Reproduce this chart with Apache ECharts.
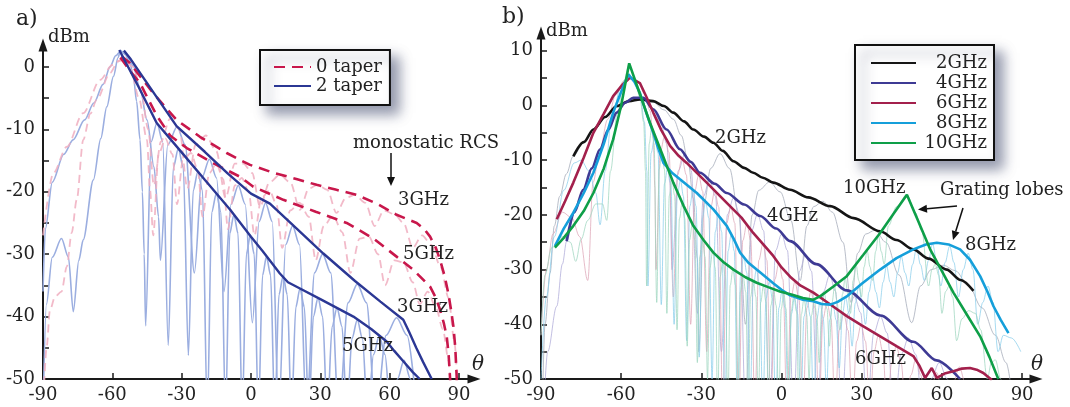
<!DOCTYPE html>
<html><head><meta charset="utf-8">
<script src="https://cdn.jsdelivr.net/npm/echarts@6/dist/echarts.min.js"></script>
<style>html,body{margin:0;padding:0;background:#fff}#c{width:1070px;height:407px}</style>
</head><body><div id="c"></div>
<script>
// ---------- tick labels ----------
const xTickLabels = [-90, -60, -30, 0, 30, 60, 90];
const yLabelsA = [-50, -40, -30, -20, -10, 0];
const yTicksA = [-50, -45, -40, -35, -30, -25, -20, -15, -10, -5, 0];
const yLabelsB = [-50, -40, -30, -20, -10, 0, 10];
const yTicksB = [-50, -45, -40, -35, -30, -25, -20, -15, -10, -5, 0, 5, 10];

// ---------- panel a: envelopes ----------
const a0taper3G = [[-56,1.7],[-55.4,1.65],[-52.4,0.6],[-48,-1.5],[-42.3,-4.2],[-37,-6.5],[-32.2,-8.5],[-22.1,-11.2],[-10.5,-13.8],[-4.8,-14.9],[-0.4,-15.7],[10,-17],[20,-18],[28.4,-18.9],[37,-19.7],[45.7,-20.5],[55,-22],[63,-23.7],[71.7,-25],[75,-26],[77.5,-27.2],[80,-29],[81.8,-30.9],[83.8,-33.5],[85.4,-36.3],[86.6,-39],[87.6,-41.6],[88.4,-45],[89,-49.6],[89.1,-51]];
const a0taper5G = [[-56.5,1.5],[-52,-0.8],[-48,-2.6],[-45,-4.8],[-40.8,-7.8],[-35,-11],[-27.8,-13],[-16,-15.5],[-4.8,-17.6],[1,-19.2],[14,-21.3],[28,-23.2],[41.4,-25],[53,-27.5],[63,-30.4],[70.2,-32.5],[77.5,-35.2],[80,-37],[81.8,-38.9],[83.4,-41],[84.7,-43.2],[85.5,-46],[86.1,-49.6],[86.3,-51]];
const a2taper3G = [[-55,2.6],[-52,1.2],[-42,-4.2],[-32.2,-9.5],[-20,-13.6],[-10,-17.1],[0,-20.3],[8.2,-21.9],[20,-26],[31.3,-29.9],[45,-34.3],[56,-37.6],[65.9,-40.5],[68.5,-42.5],[71.5,-45],[74.5,-47.3],[78.2,-50]];
const a2taper5G = [[-57,2.7],[-56.3,2.5],[-48.5,-3.3],[-40.8,-9],[-30,-13.7],[-20,-18.1],[-9,-22.9],[0,-27.2],[5,-29.5],[12.5,-33.1],[16,-34.5],[21.2,-35.5],[30,-37.2],[44.3,-40],[52,-42],[58.7,-44],[62,-45.5],[66,-47.2],[70,-48.9],[73,-50]];

// ---------- panel a: faint patterns ----------
const aFaintBlue3 = [[-90,-36],[-89,-26],[-86,-18.5],[-81,-14],[-77,-11.7],[-72,-8.5],[-68,-5.8],[-64,-2.8],[-61,0],[-58.5,1.8],[-56.5,2.5],[-54,2],[-51,0.2],[-48,-3.5],[-45,-8.5],[-42,-16],[-40,-24],[-39.2,-31],
[-36,-12.5],[-32,-9.6],[-28.5,-12.5],[-24.5,-33],
[-21.3,-17.8],[-18,-14.8],[-14.9,-17.8],[-11.7,-36],
[-8.6,-22],[-5.5,-19],[-2.5,-22],[0.6,-41],
[3.5,-24.8],[6.3,-21.8],[9.2,-24.8],[12,-56],
[15,-28.5],[18,-25.5],[21,-28.5],[24,-56],
[27.5,-33],[31,-30],[34.5,-33],[38,-56],
[42,-37.8],[46,-34.8],[50,-37.8],[54,-56],
[58.5,-43],[63,-40.2],[67.5,-43],[72,-56]];
const aFaintBlue5 = [[-90,-55],[-88.5,-38],[-86,-30.5],[-82,-27.5],[-79,-30.5],[-76.9,-39.2],[-74.5,-31],[-72.6,-27.7],[-68.2,-18.1],[-65,-11.5],[-62.4,-6.4],[-59.5,-1.5],[-57.5,1.5],[-56.5,2.6],[-54.5,2],[-52.5,0.8],[-50.9,-1.5],[-49.5,-5.5],[-48,-11.7],[-47,-20],[-46.2,-30],[-45.6,-41.5],
[-43.2,-12],[-40.7,-9],[-38.2,-12],[-35.8,-44.6],
[-33.6,-16.1],[-31.45,-13.1],[-29.3,-16.1],[-27.1,-46.2],
[-25,-19.8],[-23,-16.8],[-21,-19.8],[-18.9,-56],
[-17,-23.3],[-15,-20.3],[-13,-23.3],[-11,-56],
[-9.2,-26.7],[-7.4,-23.7],[-5.6,-26.7],[-3.8,-56],
[-2,-30],[-0.3,-27],[1.4,-30],[3.2,-56],
[5,-33.4],[6.7,-30.4],[8.5,-33.4],[10.3,-56],
[12.1,-36.5],[13.9,-33.5],[15.7,-36.5],[17.5,-56],
[19.4,-38.5],[21.2,-35.5],[23.1,-38.5],[25,-56],
[27,-40],[29,-37],[31,-40],[33,-56],
[35.1,-41.6],[37.2,-38.6],[39.4,-41.6],[41.5,-56],
[43.7,-43.5],[46,-40.5],[48.2,-43.5],[50.5,-56],
[53,-46.1],[55.5,-43.1],[58,-46.1],[60.5,-56],
[63.4,-50],[66.2,-47],[69,-50],[72,-56]];
const aFaintPink3 = [[-90,-27],[-85.5,-17],[-79.7,-12.8],[-72.6,-7.4],[-65.3,-2.1],[-60,0.3],[-55.5,1.3],[-51,0],[-47.5,-4],[-44.5,-10],[-42,-19],[-39,-12],[-35,-8.3],[-31,-10],[-27.5,-19.5],[-24,-12.5],[-19.5,-11],[-15,-13.5],[-11,-21],[-7,-15.5],[-3.3,-15.5],[0.5,-17],[3.9,-22.4],[8,-18.5],[12.5,-17.3],[17,-18.5],[21.2,-22.9],[25,-19.5],[28.7,-18.9],[33,-19.7],[37,-23.4],[41,-21],[45,-20.5],[49.5,-21.8],[53.5,-25.5],[57.5,-23],[62,-23.6],[66,-25],[70,-29],[74,-27],[78,-28.5],[82,-32],[85.5,-37],[88,-44],[89.5,-52]];
const aFaintPink5 = [[-90,-55],[-88.4,-44.8],[-87,-39],[-84.8,-36.8],[-82,-36],[-79.7,-32],[-77.6,-26.6],[-75.4,-21.3],[-72.6,-11.7],[-69.5,-7.5],[-66.8,-5.3],[-61,-1],[-57.5,0.9],[-55.3,1.1],[-52,-0.5],[-48.5,-5],[-45,-11.7],[-43.7,-19.7],[-42.3,-27],[-40,-14],[-37,-11.5],[-34,-14],[-32,-22],[-29.5,-15],[-26,-13.8],[-23,-16.5],[-21,-24],[-18,-17],[-15,-15.5],[-12,-18],[-10,-26],[-7,-19],[-4,-17.8],[-1,-20],[1.5,-27],[4.5,-21],[8,-19.8],[11,-22],[13.5,-29],[17,-23],[21,-21.8],[25,-24],[28,-31],[31.5,-25.5],[35.5,-23.8],[39.5,-26.5],[43,-33],[47,-27.5],[51,-27.2],[55,-30],[58,-35],[62,-31],[66,-31.3],[70,-34.5],[73,-38],[76.5,-36],[80,-38.5],[83,-42],[85.5,-47],[86.5,-52]];

// ---------- panel b: envelopes ----------
const b2GHz = [[-77.9,-9.3],[-74,-6.7],[-70.4,-4.4],[-66,-2.1],[-61.7,-0.1],[-57,0.8],[-53,1.1],[-48,0.8],[-44,-0.1],[-40.5,-1.3],[-36.5,-2.9],[-33,-4.4],[-29,-5.7],[-25.5,-6.8],[-22,-8.3],[-18,-10.2],[-14,-11.4],[-10.6,-12.3],[-7,-13.2],[-3.1,-14.1],[3.2,-15.4],[10,-16.8],[18.2,-18.4],[27,-20.6],[36.9,-23],[43,-24.6],[49.3,-26.3],[55,-28],[61.8,-30],[67,-31.9],[71.8,-33.9]];
const b4GHz = [[-80.4,-24.8],[-77.5,-19.5],[-74.2,-15.4],[-71,-11.5],[-67.9,-8],[-64.8,-4.4],[-61.7,-1.3],[-58.5,0.5],[-55.5,1.4],[-51.7,1.4],[-48,-0.7],[-43,-4.4],[-38,-8],[-34,-10.3],[-30.5,-12.3],[-25,-14.3],[-20.5,-16],[-14,-18.1],[-8,-20.2],[-2,-22.5],[3.2,-24.8],[13,-29],[24.4,-33.8],[37,-38.4],[49.3,-43.2],[58,-46.6],[66.8,-50]];
const b6GHz = [[-84.1,-20.8],[-81,-17.5],[-77.9,-14.1],[-74,-9.5],[-70.4,-5],[-66.5,-1.5],[-63,1.7],[-59.5,3.8],[-56.7,5.1],[-53,4.1],[-50.5,1.5],[-48,-1.3],[-45,-4.5],[-41.7,-7.4],[-38.5,-9.2],[-35.5,-10.5],[-28,-14.1],[-20.5,-17.8],[-15,-20.5],[-10.6,-23.3],[-7,-25.3],[-3.1,-27.5],[0,-29.6],[3.2,-31.3],[7,-32.9],[11.9,-34.2],[18,-36.3],[24.4,-38.5],[30,-40.2],[36.9,-42.2],[43,-44],[49.3,-45.8],[51.5,-47.5],[53.7,-49.8],[56.2,-48],[58.1,-49.8],[61,-49],[64.3,-48.6],[67.5,-48.1],[70.5,-48],[73,-48.3],[75.5,-48.9],[78.7,-50.2]];
const b8GHz = [[-84.8,-25.7],[-81.5,-22.5],[-77.9,-19.6],[-74,-16],[-70.4,-12.3],[-66.5,-7],[-63,-1.3],[-60,2.5],[-57.3,5.7],[-55,4.3],[-53,2.3],[-50.5,-1.5],[-48,-5],[-46,-8],[-44.2,-10.5],[-41,-12.3],[-38,-13.5],[-31.7,-16],[-25.5,-19],[-20.5,-22],[-18,-24.3],[-15.5,-26.9],[-12.5,-28.7],[-9.3,-30],[-3.1,-32.5],[0,-33.7],[3.2,-34.7],[8,-35.5],[11.9,-35.8],[15,-36.3],[18.2,-36.4],[21,-35.9],[24.4,-34.9],[30,-32.6],[36.9,-30],[43,-27.9],[49.3,-26.3],[54,-25.4],[58.1,-25.1],[62.5,-25.4],[66.8,-26.3],[70.5,-28.2],[74.3,-31.2],[77,-34],[79.3,-36.7],[82,-39.2],[84.9,-41.6]];
const b10GHz = [[-84.8,-26],[-81.5,-24.2],[-77.9,-22],[-74,-19.3],[-70.4,-16],[-66.5,-11.5],[-63,-6.2],[-60,0],[-57,7.7],[-53,2.1],[-49.2,-3.2],[-44.8,-8.7],[-40.5,-14.1],[-36.7,-18.3],[-33,-22],[-29.2,-24.6],[-25.5,-26.9],[-21.8,-28.6],[-18,-30],[-13.5,-31.4],[-9.3,-32.4],[-5,-33.2],[-0.6,-34],[4,-34.6],[8,-35.2],[11.9,-35.5],[14.4,-34.9],[19.4,-33.1],[24.4,-31.2],[30.6,-27.3],[36.9,-23.3],[41.9,-19.8],[46.9,-16.3],[51,-21],[55.6,-26.3],[60,-30.3],[64.3,-34.2],[69.3,-38.2],[74.3,-42.2],[77.8,-46],[81.1,-50]];

// ---------- panel b: faint patterns ----------
const bFaint2 = [[-89.5,-56],[-88.5,-40],[-86.6,-30.6],[-85,-22],[-83,-16.6],[-80.5,-12.5],[-78,-9.3],[-74,-6.8],[-70.4,-4.5],[-66,-2.2],[-61.7,-0.3],[-57,0.8],[-53,1],[-48,0.6],[-44,-0.8],[-40.5,-2.5],[-37.5,-5.5],[-35,-10],[-33,-17],[-31.5,-28],[-31,-45],
[-29,-18],[-26.5,-11.5],[-23,-8.8],[-19.5,-11.5],[-16,-20],[-13.5,-40],
[-11,-20],[-8.5,-15.5],[-4.5,-14],[-0.5,-15.8],[3.5,-21],[7,-32],
[9.5,-22],[12,-18.5],[15.5,-17.5],[19,-19.5],[23,-25],[26,-36],
[28.5,-27],[31.5,-23.5],[35,-22.8],[39,-25],[44,-31],[48.7,-39.7],
[52,-33],[56,-30],[60.5,-29.2],[65,-30.2],[70,-33],[75,-37],[80,-42],[84,-47],[86,-52]];
const bFaint4 = [[-89,-56],[-87.5,-45],[-84.1,-36.7],[-82,-29],[-80.4,-24.8],[-77.5,-19.5],[-74.2,-15.4],[-71,-11.5],[-67.9,-8],[-64.8,-4.4],[-61.7,-1.3],[-58.5,0.5],[-55.5,1.4],[-51.7,1.3],[-48,-0.8],[-45,-3.5],[-43,-7],[-41.8,-14],[-41,-30],
[-38.6,-11.9],[-36.2,-8.9],[-33.8,-11.9],[-31.5,-38],
[-29.2,-16.6],[-27,-13.6],[-24.7,-16.6],[-22.5,-45],
[-20.2,-19.9],[-18,-16.9],[-15.7,-19.9],[-13.5,-56],
[-11.2,-22.9],[-9,-19.9],[-6.7,-22.9],[-4.5,-56],
[-2.2,-26.5],[0,-23.5],[2.2,-26.5],[4.5,-56],
[6.7,-30.3],[9,-27.3],[11.2,-30.3],[13.5,-56],
[15.7,-34],[18,-31],[20.2,-34],[22.5,-56],
[24.9,-37.9],[27.2,-34.9],[29.6,-37.9],[32,-56],
[34.5,-41.6],[37,-38.6],[39.5,-41.6],[42,-56],
[44.8,-45.5],[47.5,-42.5],[50.2,-45.5],[53,-56],
[56,-50],[59,-47],[62,-50],[65,-56]];
const bFaint6 = [[-90,-42],[-88,-30],[-85.5,-23.5],[-82,-19.5],[-78.5,-20.5],[-75.5,-24],[-72.5,-32],[-70.5,-14],[-68,-8],[-65,-2.5],[-62,2],[-59,4.5],[-56.7,5.1],[-54,4.5],[-51,2],[-49.2,-1],[-48,-6],[-47.4,-15],[-47,-30],
[-45.4,-8.6],[-43.75,-5.6],[-42.1,-8.6],[-40.5,-35],
[-38.9,-12.7],[-37.25,-9.7],[-35.6,-12.7],[-34,-40],
[-32.5,-15.7],[-31,-12.7],[-29.5,-15.7],[-28,-45],
[-26.5,-18.6],[-25,-15.6],[-23.5,-18.6],[-22,-56],
[-20.5,-21.5],[-19,-18.5],[-17.5,-21.5],[-16,-56],
[-14.5,-24.7],[-13,-21.7],[-11.5,-24.7],[-10,-56],
[-8.5,-28.3],[-7,-25.3],[-5.5,-28.3],[-4,-56],
[-2.5,-31.8],[-1,-28.8],[0.5,-31.8],[2,-56],
[3.5,-35.2],[5,-32.2],[6.5,-35.2],[8,-56],
[9.5,-37],[11,-34],[12.5,-37],[14,-56],
[15.5,-39],[17,-36],[18.5,-39],[20,-56],
[21.6,-41.1],[23.25,-38.1],[24.9,-41.1],[26.5,-56],
[28.1,-43.1],[29.75,-40.1],[31.4,-43.1],[33,-56],
[34.6,-45],[36.25,-42],[37.9,-45],[39.5,-56],
[41.2,-47],[43,-44],[44.7,-47],[46.5,-56],
[48.4,-49.3],[50.25,-46.3],[52.1,-49.3],[54,-56],
[56,-51.8],[58,-48.8],[60,-51.8],[62,-56],
[64.2,-50.8],[66.5,-47.8],[68.8,-50.8],[71,-56]];
const bFaint8 = [[-90,-50],[-88,-35],[-85,-24],[-81.5,-15.5],[-77.5,-10.5],[-75,-10],[-72,-12],[-69.5,-16],[-67.9,-21.8],[-66,-12],[-63.5,-2],[-60,3.5],[-57.3,5.7],[-55,4.3],[-53,2.3],[-51.3,-3],[-50.4,-12],[-50,-33],
[-48.8,-8.7],[-47.5,-5.7],[-46.2,-8.7],[-45,-36.4],
[-43.8,-14.3],[-42.6,-11.3],[-41.4,-14.3],[-40.2,-40],
[-39,-16.6],[-37.85,-13.6],[-36.7,-16.6],[-35.5,-43],
[-34.3,-18.4],[-33.15,-15.4],[-32,-18.4],[-30.8,-46],
[-29.6,-20.6],[-28.4,-17.6],[-27.2,-20.6],[-26,-50],
[-24.8,-23.1],[-23.6,-20.1],[-22.4,-23.1],[-21.2,-56],
[-20,-26.6],[-18.85,-23.6],[-17.7,-26.6],[-16.5,-56],
[-15.3,-30.6],[-14.15,-27.6],[-13,-30.6],[-11.8,-56],
[-10.6,-33],[-9.4,-30],[-8.2,-33],[-7,-56],
[-5.8,-35.3],[-4.6,-32.3],[-3.4,-35.3],[-2.2,-56],
[-1,-37],[0.15,-34],[1.3,-37],[2.5,-56],
[3.7,-38.1],[4.85,-35.1],[6,-38.1],[7.2,-56],
[8.4,-38.6],[9.6,-35.6],[10.8,-38.6],[12,-56],
[13.2,-39],[14.4,-36],[15.6,-39],[16.8,-52],
[18,-39.2],[19.2,-36.2],[20.4,-39.2],[21.6,-48],
[22.8,-38],[24,-35],[25.2,-38],[26.4,-44],
[27.6,-36.1],[28.9,-33.1],[30.2,-36.1],[31.4,-40],
[32.7,-34.1],[34,-31.1],[35.3,-34.1],[36.6,-37],
[38,-32.3],[39.3,-29.3],[40.6,-32.3],[42,-35],
[43.4,-30.6],[44.8,-27.6],[46.2,-30.6],[47.6,-33],
[49,-29.1],[50.5,-26.1],[52,-29.1],[53.4,-32],
[55,-28.3],[56.5,-25.3],[58,-28.3],[59.6,-33],
[61.2,-28.7],[62.9,-25.7],[64.5,-28.7],[66.2,-35],
[68,-30],[69.8,-27],[71.6,-30],[73.4,-40],
[75.3,-36],[77.2,-33],[79.1,-36],[81,-45],
[83,-42],[86,-42.5],[89.5,-45]];
const bFaint10 = [[-90,-42],[-88.5,-31],[-86,-26],[-82,-24],[-79,-25],[-77,-28.5],[-75,-24.5],[-72.5,-21],[-69.5,-18],[-67,-18],[-65.4,-21],[-64,-12],[-61.5,-1.5],[-59,4.5],[-57,7.5],[-55,5],[-53,1.5],[-51.6,-3],[-50.9,-12],[-50.5,-33],
[-49.5,-7],[-48.6,-4],[-47.7,-7],[-46.7,-36],
[-45.8,-11.7],[-44.8,-8.7],[-43.8,-11.7],[-42.9,-38],
[-42,-16.5],[-41,-13.5],[-40,-16.5],[-39.1,-41],
[-38.2,-20.7],[-37.2,-17.7],[-36.2,-20.7],[-35.3,-44],
[-34.4,-24.6],[-33.4,-21.6],[-32.4,-24.6],[-31.5,-47],
[-30.6,-27.7],[-29.6,-24.7],[-28.6,-27.7],[-27.7,-50],
[-26.8,-29.7],[-25.8,-26.7],[-24.8,-29.7],[-23.9,-56],
[-23,-31.4],[-22,-28.4],[-21,-31.4],[-20.1,-56],
[-19.2,-32.9],[-18.2,-29.9],[-17.2,-32.9],[-16.3,-56],
[-15.4,-34.1],[-14.4,-31.1],[-13.4,-34.1],[-12.5,-56],
[-11.6,-35],[-10.6,-32],[-9.6,-35],[-8.7,-56],
[-7.8,-36],[-6.8,-33],[-5.8,-36],[-4.9,-56],
[-4,-36.6],[-3,-33.6],[-2,-36.6],[-1.1,-56],
[-0.1,-37.2],[0.8,-34.2],[1.7,-37.2],[2.7,-56],
[3.6,-37.7],[4.6,-34.7],[5.6,-37.7],[6.5,-56],
[7.4,-38.2],[8.4,-35.2],[9.4,-38.2],[10.3,-50],
[11.2,-38.4],[12.2,-35.4],[13.2,-38.4],[14.1,-47],
[15,-37.2],[16,-34.2],[17,-37.2],[17.9,-44],
[18.9,-36],[19.85,-33],[20.8,-36],[21.8,-41],
[22.8,-34.5],[23.8,-31.5],[24.8,-34.5],[25.8,-38],
[26.8,-32],[27.85,-29],[28.9,-32],[29.9,-35],
[30.9,-29.5],[32,-26.5],[33.1,-29.5],[34.1,-32],
[35.2,-26.7],[36.25,-23.7],[37.3,-26.7],[38.4,-29],
[40,-22],[43,-18.5],[46.9,-16.3],[50,-19.5],[52.5,-23],[55,-33],
[56.3,-30],[57.5,-29],[58.8,-31],[60,-38],[61.4,-34],[62.7,-33],[64,-35],[65.5,-43],[67.5,-39],[70,-37.5],[72.5,-38],[74.5,-41],[77,-50],[78.5,-47],[80,-46.5],[82,-50],[83.5,-56]];

// ---------- styling ----------
const FONT = 'DejaVu Serif';
const C = {
  crimson:'#C8174B', navy:'#2B3794', lightBlue:'#9BAEE0', pink:'#F0AEC0',
  black:'#151515', purple:'#3E3A94', maroon:'#A3204C', cyan:'#159FDA', green:'#0E9F48',
  fGray:'#A8AEBC', fPurple:'#AEAAD8', fMaroon:'#DDA6B7', fCyan:'#8ACDEB', fGreen:'#9DD6BF'
};

function xAxisDef(gi, max) {
  return {
    type:'value', gridIndex:gi, min:-90, max:max,
    axisLine:{show:true, onZero:false, lineStyle:{color:'#1a1a1a', width:2}, symbol:['none','triangle'], symbolSize:[9,13]},
    axisTick:{show:true, inside:true, length:6, lineStyle:{color:'#1a1a1a', width:1.5}, customValues:xTickLabels},
    axisLabel:{customValues:xTickLabels, margin:7, color:'#222', fontFamily:FONT, fontSize:18},
    splitLine:{show:false}
  };
}
function yAxisDef(gi, max, labels, ticks) {
  return {
    type:'value', gridIndex:gi, min:-50, max:max,
    axisLine:{show:true, onZero:false, lineStyle:{color:'#1a1a1a', width:2}, symbol:['none','triangle'], symbolSize:[9,13]},
    axisTick:{show:true, inside:true, length:6, lineStyle:{color:'#1a1a1a', width:1.5}, customValues:ticks},
    axisLabel:{customValues:labels, margin:8, color:'#222', fontFamily:FONT, fontSize:18},
    splitLine:{show:false}
  };
}
function line(name, data, gi, color, width, opts) {
  opts = opts || {};
  return {
    name:name, type:'line', xAxisIndex:gi, yAxisIndex:gi, data:data,
    symbol:'none', smooth:opts.smooth || false, smoothMonotone:'x', z:opts.z || 2,
    lineStyle:{color:color, width:width, type:opts.dash || 'solid', opacity:opts.opacity == null ? 1 : opts.opacity},
    itemStyle:{color:color}, silent:true, animation:false
  };
}
function txt(x, y, s, opts) {
  opts = opts || {};
  return {type:'text', x:x, y:y, z:100, silent:true,
    style:{text:s, font:(opts.italic ? 'italic ' : '') + (opts.size || 18) + 'px "' + FONT + '"', fill:'#222', textAlign:opts.align || 'left', textVerticalAlign:'middle'}};
}
function arrowLine(x1, y1, x2, y2) {
  const ang = Math.atan2(y2 - y1, x2 - x1), L = 9, W = 4;
  const bx = x2 - L * Math.cos(ang), by = y2 - L * Math.sin(ang);
  return [
    {type:'line', z:100, silent:true, shape:{x1:x1, y1:y1, x2:bx, y2:by}, style:{stroke:'#111', lineWidth:1.5}},
    {type:'polygon', z:100, silent:true, shape:{points:[[x2, y2], [bx - W*Math.sin(ang), by + W*Math.cos(ang)], [bx + W*Math.sin(ang), by - W*Math.cos(ang)]]}, style:{fill:'#111'}}
  ];
}

const chart = echarts.init(document.getElementById('c'), null, {renderer:'canvas'});
chart.setOption({
  animation:false,
  backgroundColor:'#fff',
  grid:[
    {left:43, top:45, width:431, height:334},
    {left:541, top:33, width:495, height:346}
  ],
  xAxis:[xAxisDef(0, 96.5), xAxisDef(1, 95.2)],
  yAxis:[yAxisDef(0, 3.5, yLabelsA, yTicksA), yAxisDef(1, 13.25, yLabelsB, yTicksB)],
  legend:[
    {data:['0 taper','2 taper'], orient:'vertical', left:260, top:50, itemWidth:37, itemHeight:14, itemGap:1, itemTextGap:6,
     padding:[8,8,10,13], backgroundColor:'#fff', borderColor:'#111', borderWidth:2, borderRadius:0,
     shadowBlur:12, shadowColor:'rgba(40,50,90,0.5)', shadowOffsetX:8, shadowOffsetY:8, selectedMode:false,
     itemStyle:{opacity:0},
     textStyle:{fontFamily:FONT, fontSize:18, color:'#222'}},
    {data:['2GHz','4GHz','6GHz','8GHz','10GHz'], orient:'vertical', left:855, top:45, itemWidth:45, itemHeight:14, itemGap:2, itemTextGap:4,
     padding:[9,7,8,15], backgroundColor:'#fff', borderColor:'#111', borderWidth:2, borderRadius:0,
     shadowBlur:12, shadowColor:'rgba(40,50,90,0.5)', shadowOffsetX:8, shadowOffsetY:8, selectedMode:false,
     itemStyle:{opacity:0},
     formatter:function(n){ return '{r|' + n + '}'; },
     textStyle:{fontFamily:FONT, fontSize:18, color:'#222', rich:{r:{width:66, align:'right', fontFamily:FONT, fontSize:18, color:'#222'}}}}
  ],
  series:[
    // panel a faint
    line('f-b3', aFaintBlue3, 0, C.lightBlue, 1.6, {smooth:0.3, z:1}),
    line('f-b5', aFaintBlue5, 0, C.lightBlue, 1.6, {smooth:0.3, z:1}),
    line('f-p3', aFaintPink3, 0, C.pink, 1.8, {smooth:0.3, z:1, dash:[8,5], opacity:0.85}),
    line('f-p5', aFaintPink5, 0, C.pink, 1.8, {smooth:0.3, z:1, dash:[8,5], opacity:0.85}),
    // panel a envelopes
    line('0 taper', a0taper3G, 0, C.crimson, 2.6, {dash:[11,7], z:3}),
    line('0 taper', a0taper5G, 0, C.crimson, 2.6, {dash:[11,7], z:3}),
    line('2 taper', a2taper3G, 0, C.navy, 2.4, {z:4}),
    line('2 taper', a2taper5G, 0, C.navy, 2.4, {z:4}),
    // panel b faint
    line('f2', bFaint2, 1, C.fGray, 1, {smooth:0.35, z:1, opacity:0.8}),
    line('f4', bFaint4, 1, C.fPurple, 1, {smooth:0.35, z:1, opacity:0.75}),
    line('f6', bFaint6, 1, C.fMaroon, 1, {smooth:0.35, z:1, opacity:0.75}),
    line('f8', bFaint8, 1, C.fCyan, 1, {smooth:0.35, z:1, opacity:0.75}),
    line('f10', bFaint10, 1, C.fGreen, 1, {smooth:0.35, z:1, opacity:0.75}),
    // panel b envelopes
    line('2GHz', b2GHz, 1, C.black, 2.6, {smooth:0.3, z:5}),
    line('4GHz', b4GHz, 1, C.purple, 2.6, {smooth:0.3, z:5}),
    line('6GHz', b6GHz, 1, C.maroon, 2.6, {z:5}),
    line('8GHz', b8GHz, 1, C.cyan, 2.6, {z:6}),
    line('10GHz', b10GHz, 1, C.green, 2.6, {z:7})
  ],
  graphic:[
    txt(16, 19, 'a)', {size:22}),
    txt(502, 17, 'b)', {size:22}),
    txt(48, 37, 'dBm'),
    txt(546, 31, 'dBm'),
    txt(478, 365, 'θ', {italic:true, size:20, align:'center'}),
    txt(1037, 365, 'θ', {italic:true, size:20, align:'center'}),
    txt(353, 143, 'monostatic RCS'),
    txt(398, 200, '3GHz'),
    txt(403, 254, '5GHz'),
    txt(397, 307, '3GHz'),
    txt(342, 346, '5GHz'),
    txt(715, 138, '2GHz'),
    txt(767, 216, '4GHz'),
    txt(855, 359, '6GHz'),
    txt(965, 245, '8GHz'),
    txt(843, 188, '10GHz'),
    txt(940, 190, 'Grating lobes')
  ].concat(arrowLine(391, 153, 391, 186), arrowLine(957, 206, 918, 209.5), arrowLine(963, 208, 953, 240))
});
</script></body></html>
